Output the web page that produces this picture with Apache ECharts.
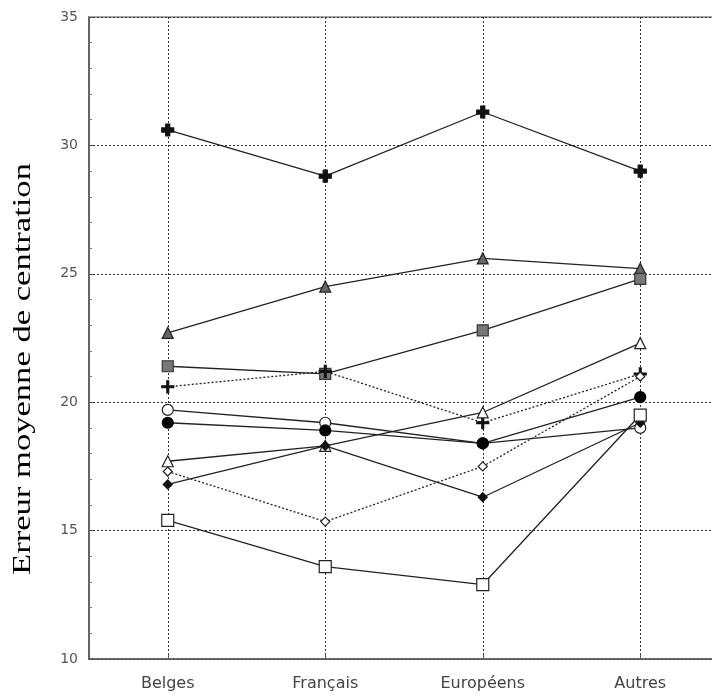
<!DOCTYPE html>
<html>
<head>
<meta charset="utf-8">
<script src="https://cdn.jsdelivr.net/npm/echarts@6/dist/echarts.min.js"></script>
<style>html,body{margin:0;padding:0;background:#fff;}#c{width:712px;height:694px;}</style>
</head>
<body>
<div id="c"></div>
<script>
var categories = ['Belges', 'Français', 'Européens', 'Autres'];
var yTicks = [10, 15, 20, 25, 30, 35];
var yTitle = 'Erreur moyenne de centration';
var sBoldCross = [30.6, 28.8, 31.3, 29.0];
var sGrayTriangle = [22.7, 24.5, 25.6, 25.2];
var sGraySquare = [21.4, 21.1, 22.8, 24.8];
var sThinPlus = [20.6, 21.2, 19.2, 21.1];
var sOpenCircle = [19.7, 19.2, 18.4, 19.0];
var sFilledCircle = [19.2, 18.9, 18.4, 20.2];
var sOpenTriangle = [17.7, 18.3, 19.6, 22.3];
var sOpenDiamond = [17.3, 15.35, 17.5, 21.0];
var sFilledDiamond = [16.8, 18.3, 16.3, 19.2];
var sOpenSquare = [15.4, 13.6, 12.9, 19.5];

var thickPlus = 'path://M3.3,0H6.7V3.3H10V6.7H6.7V10H3.3V6.7H0V3.3H3.3Z';
var thinPlus = 'path://M4.2,0H5.8V4.2H10V5.8H5.8V10H4.2V5.8H0V4.2H4.2Z';

function mk(name, data, symbol, size, fill, border, dotted) {
  return {
    name: name, type: 'line', data: data, symbol: symbol, symbolSize: size,
    showSymbol: true, animation: false,
    lineStyle: { color: '#222', width: 1.3, type: dotted ? [2, 2] : 'solid' },
    itemStyle: { color: fill, borderColor: border, borderWidth: 1.2 },
    z: 3
  };
}

var chart = echarts.init(document.getElementById('c'), null, { renderer: 'canvas' });
chart.setOption({
  backgroundColor: '#fff',
  animation: false,
  grid: { left: 89, top: 17, bottom: 35, right: -7, outerBoundsMode: 'none', containLabel: false,
          show: true, borderColor: '#555', borderWidth: 1.2 },
  graphic: [{
    type: 'text', x: 23, y: 369, rotation: Math.PI / 2, scaleX: 1.33,
    style: { text: yTitle, font: '26px "Liberation Serif", "Times New Roman", serif', fill: '#000',
             align: 'center', verticalAlign: 'middle' }
  }],
  xAxis: {
    type: 'category', data: categories, boundaryGap: true,
    axisLine: { show: true, lineStyle: { color: '#555', width: 1.5 } },
    axisTick: { show: true, inside: true, alignWithLabel: true, length: 5, lineStyle: { color: '#555' } },
    axisLabel: { color: '#444', fontFamily: '"DejaVu Sans", Verdana, sans-serif', fontSize: 16, margin: 17 },
    splitLine: { show: true, alignWithLabel: true, lineStyle: { color: '#333', type: [2, 2], width: 1 } }
  },
  yAxis: {
    type: 'value', min: yTicks[0], max: yTicks[yTicks.length - 1], interval: 5,
    axisLine: { show: true, lineStyle: { color: '#555', width: 1.5 } },
    axisTick: { show: true, inside: true, length: 4, lineStyle: { color: '#555' } },
    minorTick: { show: true, splitNumber: 5, length: 3, lineStyle: { color: '#777' } },
    axisLabel: { color: '#555', fontFamily: '"DejaVu Sans", Verdana, sans-serif', fontSize: 14, margin: 11 },
    splitLine: { show: true, lineStyle: { color: '#333', type: [2, 2], width: 1 } }
  },
  series: [
    mk('s1', sBoldCross, thickPlus, 12, '#111', '#111', false),
    mk('s2', sGrayTriangle, 'triangle', 11, '#666', '#222', false),
    mk('s3', sGraySquare, 'rect', 11, '#777', '#333', false),
    mk('s4', sThinPlus, thinPlus, 12, '#111', '#111', true),
    mk('s5', sOpenCircle, 'circle', 11, '#fff', '#222', false),
    mk('s6', sFilledCircle, 'circle', 11, '#000', '#000', false),
    mk('s7', sOpenTriangle, 'triangle', 11, '#fff', '#222', false),
    mk('s8', sOpenDiamond, 'diamond', 9, '#fff', '#222', true),
    mk('s9', sFilledDiamond, 'diamond', 9, '#111', '#111', false),
    mk('s10', sOpenSquare, 'rect', 12, '#fff', '#222', false)
  ]
});
</script>
</body>
</html>
